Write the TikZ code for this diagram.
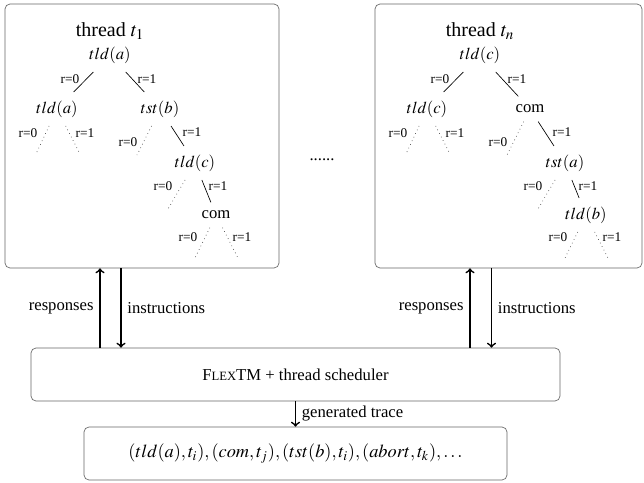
\documentclass[tikz,border=0pt]{standalone}
\usepackage{mathptmx}
\usepackage[no-math]{fontspec}
\setmainfont{Liberation Serif}
\usetikzlibrary{calc}

\tikzset{
  box/.style={draw=black!60, rounded corners=3pt, inner sep=0pt},
  tnode/.style={inner xsep=1pt, inner ysep=5pt},
  lbl/.style={font=\footnotesize, inner sep=0pt},
  dotline/.style={dotted, black!75},
  flow/.style={->, line width=1pt},
}

\begin{document}
\begin{tikzpicture}[x=0.6pt, y=-0.6pt]
\useasboundingbox (0,0) rectangle (644,483);

% thread boxes
\node[box, minimum width=164.4pt, minimum height=158.4pt] (box1) at (142,136) {};
\node[box, minimum width=160.2pt, minimum height=158.4pt] (boxn) at (508.5,136) {};
\node (dots) at (322,160) {......};

% one tree per thread, same shape
\foreach \i/\dx/\who/\troot/\tleft/\tright/\tmid/\tlow in {
  1/0/{t_1}/{$tld(a)$}/{$tld(a)$}/{$tst(b)$}/{$tld(c)$}/{com},
  n/370/{t_n}/{$tld(c)$}/{$tld(c)$}/{com}/{$tst(a)$}/{$tld(b)$}} {
  \node[font=\large] (title\i) at (\dx+110,31) {thread $\who$};
  \node[tnode] (root\i) at (\dx+110,55) {\troot};
  \node[tnode] (a\i) at (\dx+57,109) {\tleft};
  \node[tnode] (b\i) at (\dx+160,109) {\tright};
  \node[tnode] (c\i) at (\dx+195,163) {\tmid};
  \node[tnode] (d\i) at (\dx+216,215) {\tlow};
  \coordinate (al\i) at (\dx+36,154);
  \coordinate (ar\i) at (\dx+80,154);
  \coordinate (bl\i) at (\dx+137,155);
  \coordinate (cl\i) at (\dx+168,209);
  \coordinate (dl\i) at (\dx+195,258);
  \coordinate (dr\i) at (\dx+238,258);
  \draw (root\i) -- (a\i);
  \draw (root\i) -- (b\i);
  \draw (b\i) -- (c\i);
  \draw (c\i) -- (d\i);
  \draw[dotline] (a\i) -- (al\i);
  \draw[dotline] (a\i) -- (ar\i);
  \draw[dotline] (b\i) -- (bl\i);
  \draw[dotline] (c\i) -- (cl\i);
  \draw[dotline] (d\i) -- (dl\i);
  \draw[dotline] (d\i) -- (dr\i);
  \foreach \lx/\ly/\lt [count=\k] in {70/79/0, 147/79/1, 28/133/0, 85/133/1,
      128/142/0, 192/132/1, 163/186/0, 218/186/1, 188/237/0, 242/237/1}
    \node[lbl] (r\i-\k) at (\dx+\lx,\ly) {r=\lt};
}

% scheduler and trace
\node[box, minimum width=317.4pt, minimum height=31.8pt] (flex) at (295.5,374.5)
  {F{\fontsize{7.6}{9}\selectfont LEX}TM + thread scheduler};
\node[box, font=\fontsize{11}{13}\selectfont, minimum width=253.8pt, minimum height=31.8pt] (trace) at (295.5,453.5)
  {$(tld(a),t_i),(com,t_j),(tst(b),t_i),(abort,t_k),\ldots$};

\coordinate (resp1) at ($(box1.south)+(-42,0)$);
\coordinate (inst1) at ($(box1.south)+(-21,0)$);
\coordinate (respn) at ($(boxn.south)+(-38.5,0)$);
\coordinate (instn) at ($(boxn.south)+(-17,0)$);
\draw[flow] (resp1 |- flex.north) -- node[left] (lresp1) {responses} (resp1);
\draw[flow] (inst1) -- node[right] (linst1) {instructions} (inst1 |- flex.north);
\draw[flow] (respn |- flex.north) -- node[left] (lrespn) {responses} (respn);
\draw[flow] (instn) -- node[right] (linstn) {instructions} (instn |- flex.north);
\draw[flow] (flex) -- node[right] (ltrace) {generated trace} (trace);
\end{tikzpicture}
\end{document}
